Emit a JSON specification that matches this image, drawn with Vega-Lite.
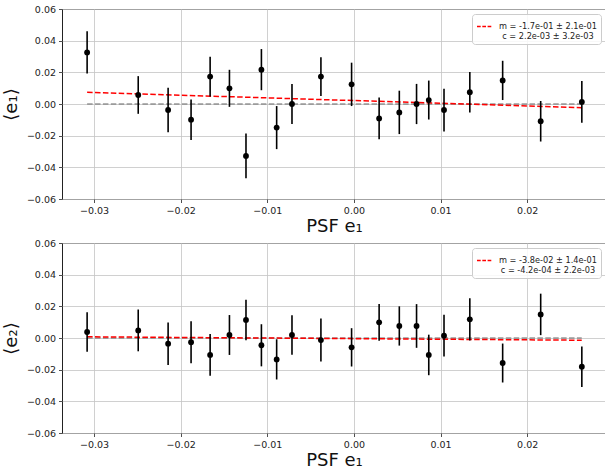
{
  "$schema": "https://vega.github.io/schema/vega-lite/v6.json",
  "background": "white",
  "padding": {"left": 1, "top": 3, "right": 0, "bottom": 0},
  "spacing": 44,
  "bounds": "flush",
  "datasets": {
    "e1": [
      {"x": -0.0308, "y": 0.0326, "err": 0.0134},
      {"x": -0.0249, "y": 0.0057, "err": 0.0119},
      {"x": -0.02145, "y": -0.0038, "err": 0.0141},
      {"x": -0.0188, "y": -0.0099, "err": 0.0128},
      {"x": -0.0166, "y": 0.0173, "err": 0.0126},
      {"x": -0.01437, "y": 0.0099, "err": 0.0117},
      {"x": -0.01246, "y": -0.0328, "err": 0.0141},
      {"x": -0.01068, "y": 0.0217, "err": 0.013},
      {"x": -0.00892, "y": -0.0149, "err": 0.0136},
      {"x": -0.00715, "y": 0.0, "err": 0.0127},
      {"x": -0.00381, "y": 0.0173, "err": 0.0123},
      {"x": -0.00027, "y": 0.0124, "err": 0.0137},
      {"x": 0.00291, "y": -0.0091, "err": 0.0132},
      {"x": 0.00524, "y": -0.0053, "err": 0.0137},
      {"x": 0.00723, "y": 0.0, "err": 0.0127},
      {"x": 0.00864, "y": 0.0025, "err": 0.0123},
      {"x": 0.0104, "y": -0.0038, "err": 0.0135},
      {"x": 0.01338, "y": 0.0074, "err": 0.0128},
      {"x": 0.01717, "y": 0.0149, "err": 0.0124},
      {"x": 0.02156, "y": -0.0109, "err": 0.0128},
      {"x": 0.02631, "y": 0.0013, "err": 0.0132}
    ],
    "e2": [
      {"x": -0.0308, "y": 0.0038, "err": 0.0125},
      {"x": -0.0249, "y": 0.0048, "err": 0.0132},
      {"x": -0.02145, "y": -0.0036, "err": 0.0134},
      {"x": -0.0188, "y": -0.0027, "err": 0.0132},
      {"x": -0.0166, "y": -0.0107, "err": 0.0132},
      {"x": -0.01437, "y": 0.0019, "err": 0.0126},
      {"x": -0.01246, "y": 0.0114, "err": 0.0128},
      {"x": -0.01068, "y": -0.0046, "err": 0.0133},
      {"x": -0.00892, "y": -0.0135, "err": 0.0127},
      {"x": -0.00715, "y": 0.0019, "err": 0.0125},
      {"x": -0.00381, "y": -0.0013, "err": 0.0136},
      {"x": -0.00027, "y": -0.0059, "err": 0.0121},
      {"x": 0.00291, "y": 0.0099, "err": 0.0116},
      {"x": 0.00524, "y": 0.0076, "err": 0.0124},
      {"x": 0.00723, "y": 0.0076, "err": 0.0138},
      {"x": 0.00864, "y": -0.0107, "err": 0.0128},
      {"x": 0.0104, "y": 0.0015, "err": 0.0132},
      {"x": 0.01338, "y": 0.0118, "err": 0.0133},
      {"x": 0.01717, "y": -0.0158, "err": 0.0123},
      {"x": 0.02156, "y": 0.0149, "err": 0.0131},
      {"x": 0.02631, "y": -0.0181, "err": 0.0128}
    ],
    "fit1": [
      {"x": -0.0308, "zero": 0, "fit": 0.0074, "label": "m = -1.7e-01 ± 2.1e-01|c = 2.2e-03 ± 3.2e-03"},
      {"x": 0.0263, "zero": 0, "fit": -0.0023, "label": "m = -1.7e-01 ± 2.1e-01|c = 2.2e-03 ± 3.2e-03"}
    ],
    "fit2": [
      {"x": -0.0308, "zero": 0, "fit": 0.00075, "label": "m = -3.8e-02 ± 1.4e-01|c = -4.2e-04 ± 2.2e-03"},
      {"x": 0.0263, "zero": 0, "fit": -0.0014, "label": "m = -3.8e-02 ± 1.4e-01|c = -4.2e-04 ± 2.2e-03"}
    ]
  },
  "resolve": {"scale": {"color": "independent"}, "legend": {"color": "independent"}},
  "vconcat": [
    {
      "width": 544,
      "height": 190,
      "layer": [
        {
          "data": {"name": "fit1"},
          "mark": {"type": "line", "color": "#666666", "strokeDash": [5.5, 2.4], "strokeWidth": 1.2},
          "encoding": {
            "x": {"field": "x", "type": "quantitative", "title": "PSF e₁"},
            "y": {"field": "zero", "type": "quantitative", "title": "⟨e₁⟩"}
          }
        },
        {
          "data": {"name": "fit1"},
          "mark": {"type": "line", "strokeDash": [5.5, 2.4], "strokeWidth": 1.5},
          "encoding": {
            "x": {"field": "x", "type": "quantitative", "title": "PSF e₁"},
            "y": {"field": "fit", "type": "quantitative", "title": "⟨e₁⟩"},
            "color": {"field": "label", "type": "nominal", "scale": {"range": ["#ff0000"]},
              "legend": {"title": null, "orient": "top-right", "labelExpr": "split(datum.label, '|')"}}
          }
        },
        {
          "data": {"name": "e1"},
          "mark": {"type": "errorbar", "color": "black", "thickness": 1.6},
          "encoding": {
            "x": {"field": "x", "type": "quantitative", "title": "PSF e₁"},
            "y": {"field": "y", "type": "quantitative", "title": "⟨e₁⟩"},
            "yError": {"field": "err"}
          }
        },
        {
          "data": {"name": "e1"},
          "mark": {"type": "point", "filled": true, "color": "black", "opacity": 1, "size": 34, "shape": "circle"},
          "encoding": {
            "x": {"field": "x", "type": "quantitative", "title": "PSF e₁",
              "scale": {"domain": [-0.0337, 0.0291], "nice": false, "zero": false},
              "axis": {"values": [-0.03, -0.02, -0.01, 0, 0.01, 0.02], "format": ".2f", "tickCount": 20}},
            "y": {"field": "y", "type": "quantitative", "title": "⟨e₁⟩",
              "scale": {"domain": [-0.06, 0.06], "nice": false, "zero": false},
              "axis": {"values": [-0.06, -0.04, -0.02, 0, 0.02, 0.04, 0.06], "format": ".2f", "tickCount": 20}}
          }
        }
      ]
    },
    {
      "width": 544,
      "height": 190,
      "layer": [
        {
          "data": {"name": "fit2"},
          "mark": {"type": "line", "color": "#666666", "strokeDash": [5.5, 2.4], "strokeWidth": 1.2},
          "encoding": {
            "x": {"field": "x", "type": "quantitative", "title": "PSF e₁"},
            "y": {"field": "zero", "type": "quantitative", "title": "⟨e₂⟩"}
          }
        },
        {
          "data": {"name": "fit2"},
          "mark": {"type": "line", "strokeDash": [5.5, 2.4], "strokeWidth": 1.5},
          "encoding": {
            "x": {"field": "x", "type": "quantitative", "title": "PSF e₁"},
            "y": {"field": "fit", "type": "quantitative", "title": "⟨e₂⟩"},
            "color": {"field": "label", "type": "nominal", "scale": {"range": ["#ff0000"]},
              "legend": {"title": null, "orient": "top-right", "labelExpr": "split(datum.label, '|')"}}
          }
        },
        {
          "data": {"name": "e2"},
          "mark": {"type": "errorbar", "color": "black", "thickness": 1.6},
          "encoding": {
            "x": {"field": "x", "type": "quantitative", "title": "PSF e₁"},
            "y": {"field": "y", "type": "quantitative", "title": "⟨e₂⟩"},
            "yError": {"field": "err"}
          }
        },
        {
          "data": {"name": "e2"},
          "mark": {"type": "point", "filled": true, "color": "black", "opacity": 1, "size": 34, "shape": "circle"},
          "encoding": {
            "x": {"field": "x", "type": "quantitative", "title": "PSF e₁",
              "scale": {"domain": [-0.0337, 0.0291], "nice": false, "zero": false},
              "axis": {"values": [-0.03, -0.02, -0.01, 0, 0.01, 0.02], "format": ".2f", "tickCount": 20}},
            "y": {"field": "y", "type": "quantitative", "title": "⟨e₂⟩",
              "scale": {"domain": [-0.06, 0.06], "nice": false, "zero": false},
              "axis": {"values": [-0.06, -0.04, -0.02, 0, 0.02, 0.04, 0.06], "format": ".2f", "tickCount": 20}}
          }
        }
      ]
    }
  ],
  "config": {
    "font": "DejaVu Sans",
    "view": {"stroke": "#222222", "strokeWidth": 1},
    "axis": {
      "labelFont": "DejaVu Sans", "labelFontSize": 9.5, "labelColor": "#222222", "labelOverlap": false,
      "titleFont": "DejaVu Sans", "titleFontSize": 18, "titleFontWeight": "normal", "titleColor": "#111111",
      "gridColor": "#c4c4c4", "gridWidth": 0.8, "domain": false,
      "tickColor": "#222222", "tickSize": 3.5, "tickWidth": 0.8, "labelPadding": 3
    },
    "axisX": {"titlePadding": 2},
    "axisY": {"titlePadding": 6},
    "legend": {
      "labelFont": "DejaVu Sans", "labelFontSize": 8.2, "labelColor": "#222222",
      "labelAlign": "center", "labelOffset": 55,
      "symbolType": "stroke", "symbolDash": [3.7, 1.6], "symbolStrokeWidth": 1.5, "symbolSize": 225,
      "fillColor": "rgba(255,255,255,0.85)", "strokeColor": "#cccccc", "cornerRadius": 3,
      "padding": 4, "offset": 5
    }
  }
}
